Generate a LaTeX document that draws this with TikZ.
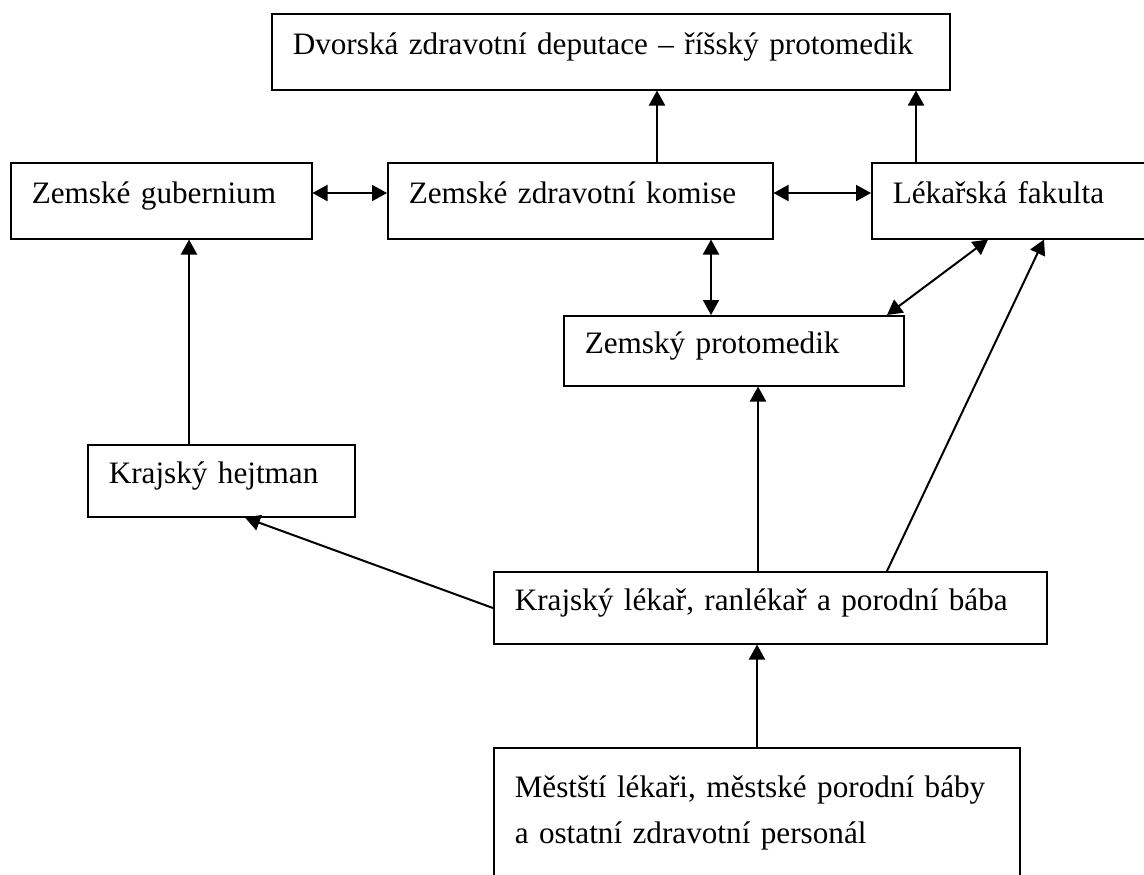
\documentclass[tikz,border=0pt]{standalone}
\usepackage{fontspec}
\setmainfont{Liberation Serif}
\usetikzlibrary{arrows.meta}

\begin{document}
\begin{tikzpicture}[x=0.5pt,y=-0.5pt,font=\fontsize{15.6}{23}\selectfont]
\tikzstyle{box}=[draw=black,line width=0.75pt,anchor=north west,align=left,inner xsep=10.5pt,inner ysep=0pt,text height=10pt,text depth=7pt]
\tikzstyle{up}=[-{Triangle[length=7.5pt,width=8pt]},line width=1pt]
\tikzstyle{both}=[{Triangle[length=7.5pt,width=8pt]}-{Triangle[length=7.5pt,width=8pt]},line width=1pt]

\fill[white] (0,0) rectangle (1144,874);
\useasboundingbox (0,0) rectangle (1144,874);
\clip (0,0) rectangle (1144,874);

\node[box,text width=318pt,minimum height=38pt] (deput) at (271,13) {\mbox{Dvorská zdravotní deputace – říšský protomedik}};
\node[box,text width=129.5pt,minimum height=38pt] (gub) at (10,162) {Zemské gubernium};
\node[box,text width=171.5pt,minimum height=38pt] (komise) at (387,162) {Zemské zdravotní komise};
\node[box,text width=118.5pt,minimum height=38pt] (fakulta) at (871,162) {Lékařská fakulta};
\node[box,text width=149pt,minimum height=35pt] (proto) at (563,315) {Zemský protomedik};
\node[box,text width=112.5pt,minimum height=36pt] (hejtman) at (87,444) {Krajský hejtman};
\node[box,text width=255.5pt,minimum height=36pt] (lekar) at (493,571) {\mbox{Krajský lékař, ranlékař a porodní bába}};
\node[box,text width=242pt,text height=25pt,text depth=80pt] (meststi) at (493,747)
  {\makebox[\linewidth][s]{Městští lékaři, městské porodní báby}\\a ostatní zdravotní personál};

\path
  (komise.north -| 657,0) edge [up] (deput.south -| 657,0)
  (fakulta.north -| 916,0) edge [up] (deput.south -| 916,0)
  (gub.east |- 0,193) edge [both] (komise.west |- 0,193)
  (komise.east |- 0,193) edge [both] (fakulta.west |- 0,193)
  (komise.south -| 711,0) edge [both] (proto.north -| 711,0)
  (fakulta.south -| 988,0) edge [both] (proto.north -| 887,0)
  (lekar.north -| 887,0) edge [up] (fakulta.south -| 1044,0)
  (lekar.north -| 758,0) edge [up] (proto.south -| 758,0)
  (lekar.west |- 0,608) edge [up] (hejtman.south -| 245,0)
  (hejtman.north -| 189,0) edge [up] (gub.south -| 189,0)
  (meststi.north -| 757,0) edge [up] (lekar.south -| 757,0);
\end{tikzpicture}
\end{document}
